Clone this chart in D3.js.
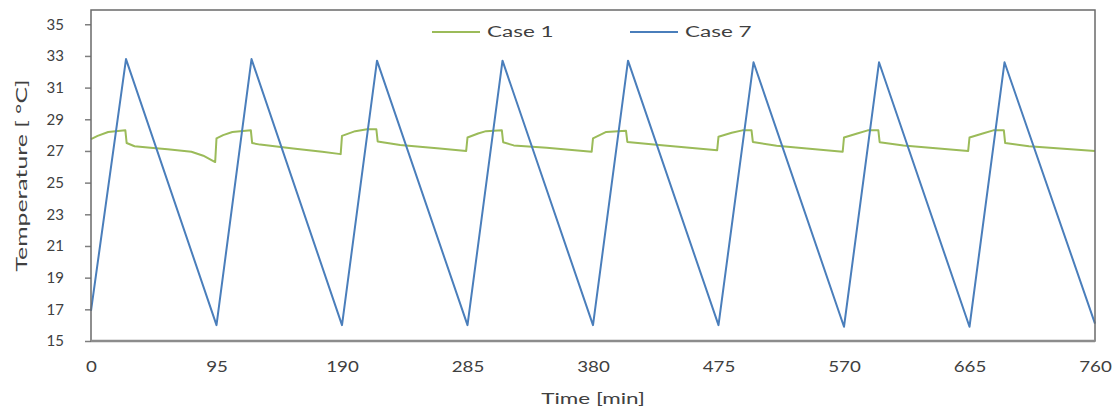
<!DOCTYPE html>
<html>
<head>
<meta charset="utf-8">
<script src="https://cdn.jsdelivr.net/npm/d3@7"></script>
<style>
  body { margin: 0; background: #fff; }
  svg text { font-family: Lato, "Open Sans", sans-serif; fill: #404040; }
</style>
</head>
<body>
<div id="chart"></div>
<script>
// Case 7 (blue) - turning points of the sawtooth
const case7Time = [0, 26.5, 95, 121.5, 190, 216.5, 285, 311.5, 380, 406.5, 475, 501.5, 570, 596.5, 665, 691.5, 760];
const case7Temp = [16.9, 32.8, 16.0, 32.8, 16.0, 32.7, 16.0, 32.7, 16.0, 32.7, 16.0, 32.6, 15.9, 32.6, 15.9, 32.6, 16.1];

// Case 1 (green)
const case1Time = [0, 5, 13, 26, 27, 33, 45, 58, 76, 85, 94,
    95, 100, 107, 121, 122, 128, 153, 175, 189,
    190, 200, 209, 216, 217, 234, 264, 284,
    285, 293, 299, 311, 312, 320, 345, 379,
    380, 390, 405, 406, 430, 474,
    475, 485, 493, 500, 501, 519, 569,
    570, 580, 588, 596, 597, 615, 664,
    665, 675, 683, 691, 692, 710, 760];
const case1Temp = [27.75, 27.95, 28.2, 28.3, 27.5, 27.3, 27.2, 27.1, 26.95, 26.7, 26.3,
    27.8, 28.0, 28.2, 28.3, 27.5, 27.4, 27.15, 26.95, 26.8,
    27.95, 28.25, 28.37, 28.37, 27.6, 27.37, 27.15, 27.0,
    27.85, 28.1, 28.25, 28.3, 27.55, 27.35, 27.2, 26.95,
    27.8, 28.2, 28.27, 27.57, 27.37, 27.05,
    27.9, 28.15, 28.3, 28.3, 27.57, 27.33, 26.95,
    27.85, 28.1, 28.3, 28.3, 27.55, 27.35, 27.0,
    27.85, 28.1, 28.3, 28.3, 27.5, 27.3, 27.0];

const xTicks = [0, 95, 190, 285, 380, 475, 570, 665, 760];
const yTicks = [15, 17, 19, 21, 23, 25, 27, 29, 31, 33, 35];

const series = [
    { name: "Case 1", color: "#9bbb59", time: case1Time, temp: case1Temp },
    { name: "Case 7", color: "#4a7ebb", time: case7Time, temp: case7Temp }
];

const width = 1118, height = 417;
const margin = { top: 10, right: 23, bottom: 76, left: 91 };

const svg = d3.select("#chart").append("svg")
    .attr("width", width)
    .attr("height", height);

const x = d3.scaleLinear().domain([0, 760]).range([margin.left, width - margin.right]);
const y = d3.scaleLinear().domain([15, 35.9]).range([height - margin.bottom, margin.top]);

// y axis
const yAxis = svg.append("g")
    .attr("transform", `translate(${margin.left},0)`)
    .call(d3.axisLeft(y).tickValues(yTicks).tickSize(6).tickPadding(21));
yAxis.select(".domain").remove();
yAxis.selectAll(".tick line").attr("stroke", "#7f7f7f").attr("stroke-width", 1.5);
yAxis.selectAll(".tick text").style("font-size", "15px").attr("fill", "#404040");

// x axis (labels a bit wide, like the original)
const xAxis = svg.append("g")
    .attr("transform", `translate(0,${height - margin.bottom})`)
    .call(d3.axisBottom(x).tickValues(xTicks).tickSize(0).tickPadding(20));
xAxis.select(".domain").remove();
xAxis.selectAll(".tick text")
    .style("font-size", "15px")
    .attr("fill", "#404040")
    .attr("transform", "scale(1.25,1)");

// lines
const line = d3.line()
    .x(d => x(d[0]))
    .y(d => y(d[1]));

svg.append("g")
    .selectAll("path")
    .data(series)
    .join("path")
    .attr("fill", "none")
    .attr("stroke", d => d.color)
    .attr("stroke-width", 2)
    .attr("stroke-linejoin", "round")
    .attr("d", d => line(d.time.map((t, i) => [t, d.temp[i]])));

// plot border
svg.append("rect")
    .attr("x", margin.left)
    .attr("y", margin.top)
    .attr("width", width - margin.left - margin.right)
    .attr("height", height - margin.top - margin.bottom)
    .attr("fill", "none")
    .attr("stroke", "#6a6a6a")
    .attr("stroke-width", 1.5);

svg.append("line")
    .attr("x1", margin.left).attr("x2", width - margin.right)
    .attr("y1", height - margin.bottom).attr("y2", height - margin.bottom)
    .attr("stroke", "#8c8c8c")
    .attr("stroke-width", 2.5);

// legend
const legendX = [432, 630];
const legend = svg.append("g")
    .selectAll("g")
    .data(series)
    .join("g")
    .attr("transform", (d, i) => `translate(${legendX[i]},32)`);
legend.append("line")
    .attr("x1", 0).attr("x2", 48)
    .attr("stroke", d => d.color)
    .attr("stroke-width", 2);
legend.append("text")
    .attr("transform", "translate(55,0) scale(1.5,1)")
    .attr("dy", "0.35em")
    .style("font-size", "15px")
    .text(d => d.name);

// axis titles
svg.append("text")
    .attr("transform", `translate(${(margin.left + width - margin.right) / 2},404) scale(1.5,1)`)
    .attr("text-anchor", "middle")
    .style("font-size", "15px")
    .text("Time [min]");

svg.append("text")
    .attr("transform", `translate(27,${(margin.top + height - margin.bottom) / 2}) rotate(-90) scale(1.55,1)`)
    .attr("text-anchor", "middle")
    .style("font-size", "16px")
    .text("Temperature [ °C]");
</script>
</body>
</html>
